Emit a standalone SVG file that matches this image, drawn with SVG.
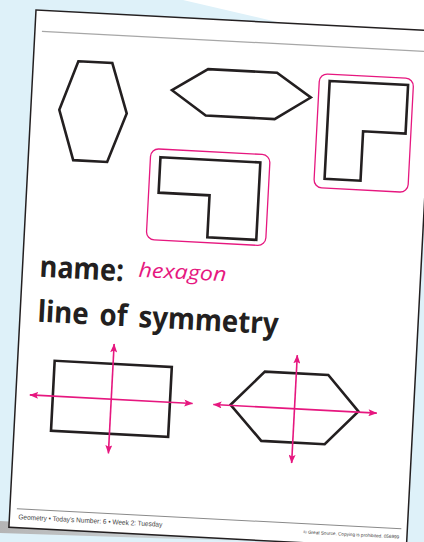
<svg xmlns="http://www.w3.org/2000/svg" width="424" height="542" viewBox="0 0 424 542">
  <defs>
    <linearGradient id="shadow" x1="0" y1="0" x2="1" y2="0">
      <stop offset="0" stop-color="#b5b5b5"/>
      <stop offset="0.6" stop-color="#cdd4d7"/>
      <stop offset="1" stop-color="#def1f9" stop-opacity="0"/>
    </linearGradient>
    <marker id="ah" viewBox="0 0 10 8" refX="9.5" refY="4" markerWidth="9" markerHeight="7" markerUnits="userSpaceOnUse" orient="auto-start-reverse">
      <path d="M0,0 L10,4 L0,8 L2,4 z" fill="#e6177f"/>
    </marker>
  </defs>
  <style>
    .shape { fill: none; stroke: #231f20; stroke-width: 2.6; stroke-linejoin: miter; }
    .box { fill: none; stroke: #e6177f; stroke-width: 1.3; }
    .axis { fill: none; stroke: #e6177f; stroke-width: 1.6; marker-start: url(#ah); marker-end: url(#ah); }
    .big { font-family: "Noto Sans", "Liberation Sans", sans-serif; font-weight: 700; font-size: 30px; fill: #231f20; }
    .hand { font-family: "Open Sans", "Noto Sans", sans-serif; font-style: italic; font-weight: 500; font-size: 20px; fill: #e6177f; }
    .foot { font-family: "Liberation Sans", "Noto Sans", sans-serif; font-size: 7px; fill: #444; }
    .copy { font-family: "Liberation Sans", "Noto Sans", sans-serif; font-size: 4.6px; fill: #444; }
  </style>

  <!-- background -->
  <rect x="0" y="0" width="424" height="542" fill="#def1f9"/>
  <polygon points="183,0 424,0 424,40 290,25" fill="#ffffff"/>
  <polygon points="0,521 300,536 300,543 0,533" fill="url(#shadow)"/>

  <g transform="translate(36,10) rotate(3)">
    <!-- page -->
    <rect id="page" x="0" y="0" width="398" height="518" fill="#ffffff" stroke="#231f20" stroke-width="1.5"/>
    <line x1="7" y1="21" x2="392" y2="21" stroke="#a7a7a7" stroke-width="1.2"/>
    <line x1="7" y1="499" x2="392" y2="499" stroke="#8a8a8a" stroke-width="1"/>

    <g id="hexagon-vertical">
      <polygon class="shape" points="45,49 79,49 96,98.5 79,148 45,148 28.5,98.5"/>
    </g>
    <g id="hexagon-horizontal">
      <polygon class="shape" points="140,73 175,50 244,50 279,73 244,96.5 175,96.5"/>
    </g>
    <g id="l-shape-right">
      <rect class="box" x="286.6" y="48.7" width="94.2" height="114" rx="8"/>
      <polygon class="shape" points="297,55.5 375.5,55.5 375.5,104 333,104 333,153.5 297,153.5"/>
    </g>
    <g id="l-shape-middle">
      <rect class="box" x="122" y="132.4" width="119.5" height="91" rx="8"/>
      <polygon class="shape" points="132,140.5 232,140.5 232,218 183,218 183,176 132,176"/>
    </g>

    <g id="name-label">
      <text class="big" x="17.3" y="266.2" textLength="84" lengthAdjust="spacingAndGlyphs">name:</text>
      <text class="hand" x="116" y="261" textLength="88" lengthAdjust="spacingAndGlyphs">hexagon</text>
    </g>
    <g id="symmetry-label">
      <text class="big" x="17.6" y="311.2" textLength="241" lengthAdjust="spacingAndGlyphs" word-spacing="4">line of symmetry</text>
    </g>

    <g id="rectangle-example">
      <rect class="shape" x="37" y="349.3" width="117.3" height="70"/>
    </g>
    <g id="hexagon-example">
      <polygon class="shape" points="215,384 247.5,349.2 311,349.2 343,384 311,418.5 247.5,418.5"/>
    </g>

    <g id="connectors">
      <line class="axis" x1="95.5" y1="329.5" x2="95.5" y2="439"/>
      <line class="axis" x1="14" y1="384.7" x2="177" y2="384.7"/>
      <line class="axis" x1="279" y1="331" x2="279" y2="439"/>
      <line class="axis" x1="197.7" y1="384.7" x2="361.4" y2="384.7"/>
    </g>

    <g id="footer">
      <text class="foot" x="9" y="509.5" textLength="144" lengthAdjust="spacingAndGlyphs">Geometry • Today’s Number: 6 • Week 2: Tuesday</text>
      <text class="copy" x="294.3" y="508.8" textLength="96" lengthAdjust="spacingAndGlyphs">© Great Source. Copying is prohibited. 056999</text>
    </g>
  </g>
</svg>
